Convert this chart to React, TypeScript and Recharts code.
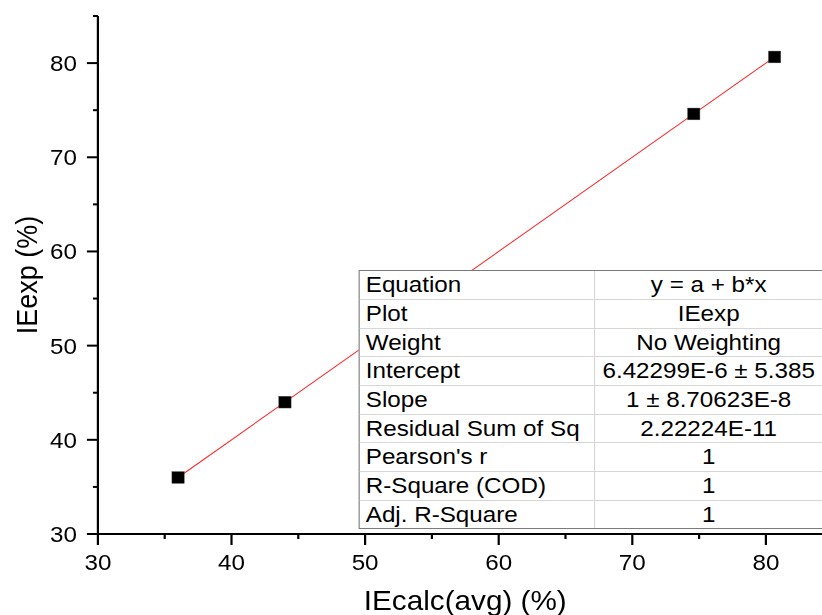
import React from 'react';
import { ComposedChart, XAxis, YAxis, Line, Scatter } from 'recharts';

// ---- data ----
const ieCalc = [36.0, 44.0, 74.6, 80.65];
const ieExp = [36.0, 44.0, 74.6, 80.65];
const fitIntercept = 6.42299e-6;
const fitSlope = 1;
const xTicks = [30, 35, 40, 45, 50, 55, 60, 65, 70, 75, 80, 85];
const yTicks = [30, 35, 40, 45, 50, 55, 60, 65, 70, 75, 80, 85];
const majorTicks = [30, 40, 50, 60, 70, 80];
const tableLabels = [
  'Equation',
  'Plot',
  'Weight',
  'Intercept',
  'Slope',
  'Residual Sum of Sq',
  "Pearson's r",
  'R-Square (COD)',
  'Adj. R-Square',
];
const tableValues = [
  'y = a + b*x',
  'IEexp',
  'No Weighting',
  '6.42299E-6 \u00B1 5.385',
  '1 \u00B1 8.70623E-8',
  '2.22224E-11',
  '1',
  '1',
  '1',
];

const data = ieCalc.map((x, i) => ({
  x,
  y: ieExp[i],
  fit: fitIntercept + fitSlope * x,
}));

const FONT = '"Liberation Sans", Arial, sans-serif';

const YTick = (props: any) => {
  const { x, y, payload } = props;
  const v = payload.value;
  const major = majorTicks.includes(v);
  return (
    <g>
      <line x1={x - (major ? 10 : 4.5)} y1={y} x2={x} y2={y} stroke="#000" strokeWidth={2} />
      {major && (
        <text x={x - 19} y={y} dy="0.36em" textAnchor="end" fontSize={22} fontFamily={FONT} fill="#000">
          {v}
        </text>
      )}
    </g>
  );
};

const XTick = (props: any) => {
  const { x, y, payload } = props;
  const v = payload.value;
  const major = majorTicks.includes(v);
  return (
    <g>
      <line x1={x} y1={y} x2={x} y2={y + (major ? 11 : 5)} stroke="#000" strokeWidth={2} />
      {major && (
        <text x={x} y={y + 36} textAnchor="middle" fontSize={22} fontFamily={FONT} fill="#000">
          {v}
        </text>
      )}
    </g>
  );
};

const Square = (props: any) => {
  const { cx, cy } = props;
  return <rect x={cx - 5.6} y={cy - 5.9} width={11.2} height={11.8} fill="#000" stroke="#555" strokeWidth={0.4} />;
};

const XTitle = (props: any) => {
  const vb = props.viewBox;
  return (
    <text x={vb.x + vb.width / 2} y={610} textAnchor="middle" fontSize={27} fontFamily={FONT} fill="#000">
      IEcalc(avg) (%)
    </text>
  );
};

const YTitle = () => {
  return (
    <text
      x={34}
      y={275}
      transform="rotate(-90 34 275)"
      textAnchor="middle"
      fontSize={27}
      fontFamily={FONT}
      fill="#000"
    >
      IEexp (%)
    </text>
  );
};

const ROW_H = 28.67;

export default function App() {
  return (
    <div
      style={{
        position: 'absolute',
        left: 0,
        top: 0,
        width: 822,
        height: 615,
        overflow: 'hidden',
        background: '#fff',
      }}
    >
      <div
        style={{
          position: 'relative',
          width: 760,
          height: 615,
          transform: 'scaleX(1.1)',
          transformOrigin: '0 0',
        }}
      >
        <ComposedChart width={760} height={615} data={data} margin={{ top: 16, right: 3, bottom: 0, left: 0 }}>
          <XAxis
            dataKey="x"
            type="number"
            domain={[30, 85]}
            ticks={xTicks}
            interval={0}
            allowDataOverflow
            height={81}
            tickSize={0}
            tickMargin={0}
            tickLine={false}
            axisLine={{ stroke: '#000', strokeWidth: 2 }}
            tick={<XTick />}
            label={<XTitle />}
          />
          <YAxis
            type="number"
            domain={[30, 85]}
            ticks={yTicks}
            interval={0}
            allowDataOverflow
            width={89}
            tickSize={0}
            tickMargin={0}
            tickLine={false}
            axisLine={{ stroke: '#000', strokeWidth: 2 }}
            tick={<YTick />}
            label={<YTitle />}
          />
          <Line
            dataKey="fit"
            type="linear"
            stroke="#ff2a2a"
            strokeWidth={1}
            dot={false}
            activeDot={false}
            isAnimationActive={false}
          />
          <Scatter dataKey="y" fill="#000" shape={<Square />} isAnimationActive={false} />
        </ComposedChart>
        <div
          style={{
            position: 'absolute',
            left: 325.5,
            top: 269.5,
            width: 423.5,
            background: '#fff',
            border: '1px solid #7a7a7a',
            boxSizing: 'border-box',
            fontFamily: FONT,
            fontSize: 22,
            color: '#000',
          }}
        >
          {tableLabels.map((lab, i) => (
            <div
              key={lab}
              style={{
                display: 'flex',
                height: ROW_H,
                lineHeight: `${ROW_H}px`,
                borderTop: i === 0 ? 'none' : '1px solid #d6d6d6',
                boxSizing: 'border-box',
                whiteSpace: 'nowrap',
              }}
            >
              <div
                style={{
                  width: 214,
                  paddingLeft: 6,
                  borderRight: '1px solid #d6d6d6',
                  boxSizing: 'border-box',
                }}
              >
                {lab}
              </div>
              <div style={{ flex: 1, textAlign: 'center' }}>{tableValues[i]}</div>
            </div>
          ))}
        </div>
      </div>
    </div>
  );
}
